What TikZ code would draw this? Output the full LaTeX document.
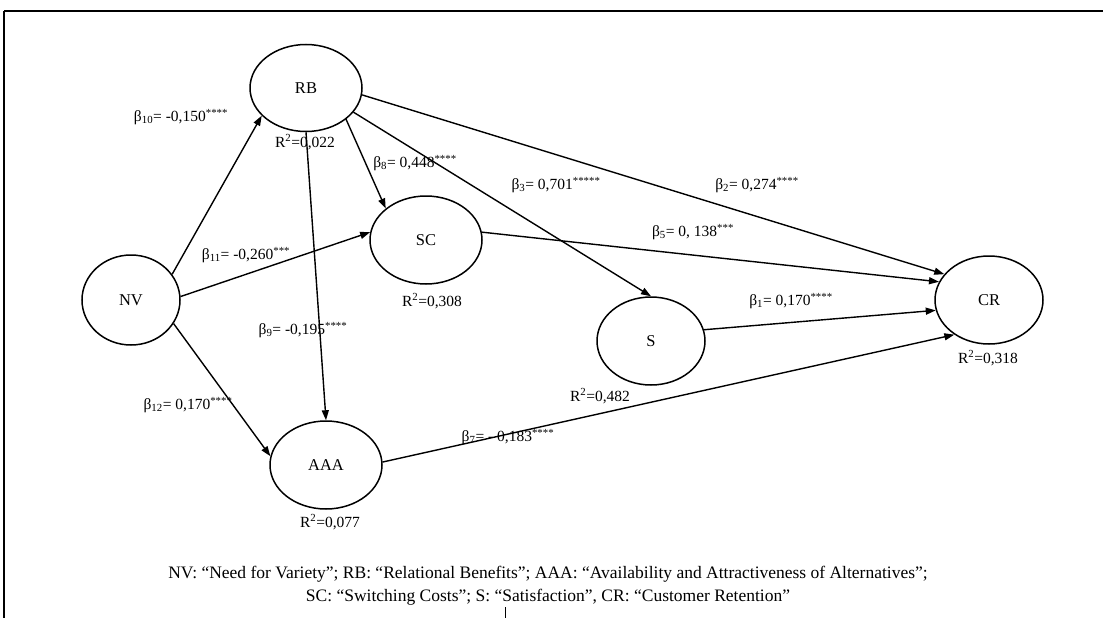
\documentclass[tikz,border=0pt]{standalone}
\usepackage{fontspec}
\setmainfont{Liberation Serif}
\usetikzlibrary{arrows.meta, shapes.geometric}

\begin{document}
\begin{tikzpicture}[x=1pt, y=-1pt,
  construct/.style={draw, ellipse, line width=1.5pt, minimum width=110pt, minimum height=88pt, inner sep=0pt, font=\fontsize{16.5}{18}\selectfont},
  link/.style={line width=1.4pt, -{Triangle[length=10pt,width=7pt]}},
  coef/.style={font=\fontsize{15.5}{17}\selectfont, inner sep=1pt},
  rsq/.style={font=\fontsize{15.5}{17}\selectfont, inner sep=1pt}]
  \useasboundingbox (0,0) rectangle (1103,618);
  % frame
  \draw[line width=2.2pt] (4,11) -- (1103,11);
  \draw[line width=1.3pt] (4,11) -- (4,618);
  \draw[line width=1pt] (505,607) -- (505,618);

  % constructs
  \node[construct, minimum width=112pt, minimum height=87pt] (rb) at (306,88) {RB};
  \node[construct, minimum width=98pt, minimum height=90pt] (nv) at (131,300) {NV};
  \node[construct, minimum width=112pt] (sc) at (426,240) {SC};
  \node[construct, minimum width=108pt] (s) at (651,341) {S};
  \node[construct, minimum width=108pt] (cr) at (989,300) {CR};
  \node[construct, minimum width=112pt] (aaa) at (326,465) {AAA};

  % paths
  \draw[link] (nv.32) -- (rb.212);
  \draw[link] (nv.4) -- (sc.172);
  \draw[link] (nv.-29) -- (aaa.171);
  \draw[link] (rb.south) -- (aaa.north);
  \draw[link] (rb.-38) -- (sc.142);
  \draw[link] (rb.-27) -- (s.north);
  \draw[link] (rb.-7) -- (cr.150);
  \draw[link] (sc.8) -- (cr.160);
  \draw[link] (s.12) -- (cr.191);
  \draw[link] (aaa.3) -- (cr.225);

  % coefficients
  \node[coef] (b10) at (181,117) {β\textsubscript{10}= -0,150\textsuperscript{****}};
  \node[coef] (b8) at (415,163) {β\textsubscript{8}= 0,448\textsuperscript{****}};
  \node[coef] (b3) at (556,185) {β\textsubscript{3}= 0,701\textsuperscript{*****}};
  \node[coef] (b2) at (757,185) {β\textsubscript{2}= 0,274\textsuperscript{****}};
  \node[coef] (b11) at (246,255) {β\textsubscript{11}= -0,260\textsuperscript{***}};
  \node[coef] (b5) at (693,232) {β\textsubscript{5}= 0, 138\textsuperscript{***}};
  \node[coef] (b9) at (303,330) {β\textsubscript{9}= -0,195\textsuperscript{****}};
  \node[coef] (b1) at (791,301) {β\textsubscript{1}= 0,170\textsuperscript{****}};
  \node[coef] (b12) at (188,405) {β\textsubscript{12}= 0,170\textsuperscript{****}};
  \node[coef] (b7) at (508,437) {β\textsubscript{7}= - 0,183\textsuperscript{****}};

  % explained variance
  \node[rsq] (r2rb) at (305,142) {R\textsuperscript{2}=0,022};
  \node[rsq] (r2sc) at (432,301) {R\textsuperscript{2}=0,308};
  \node[rsq] (r2s) at (600,396) {R\textsuperscript{2}=0,482};
  \node[rsq] (r2cr) at (988,358) {R\textsuperscript{2}=0,318};
  \node[rsq] (r2aaa) at (330,522) {R\textsuperscript{2}=0,077};

  % legend
  \node[font=\fontsize{17.5}{23}\selectfont, align=center] (legend) at (548,586)
    {NV: “Need for Variety”; RB: “Relational Benefits”; AAA: “Availability and Attractiveness of Alternatives”;\\
     SC: “Switching Costs”; S: “Satisfaction”, CR: “Customer Retention”};
\end{tikzpicture}
\end{document}
